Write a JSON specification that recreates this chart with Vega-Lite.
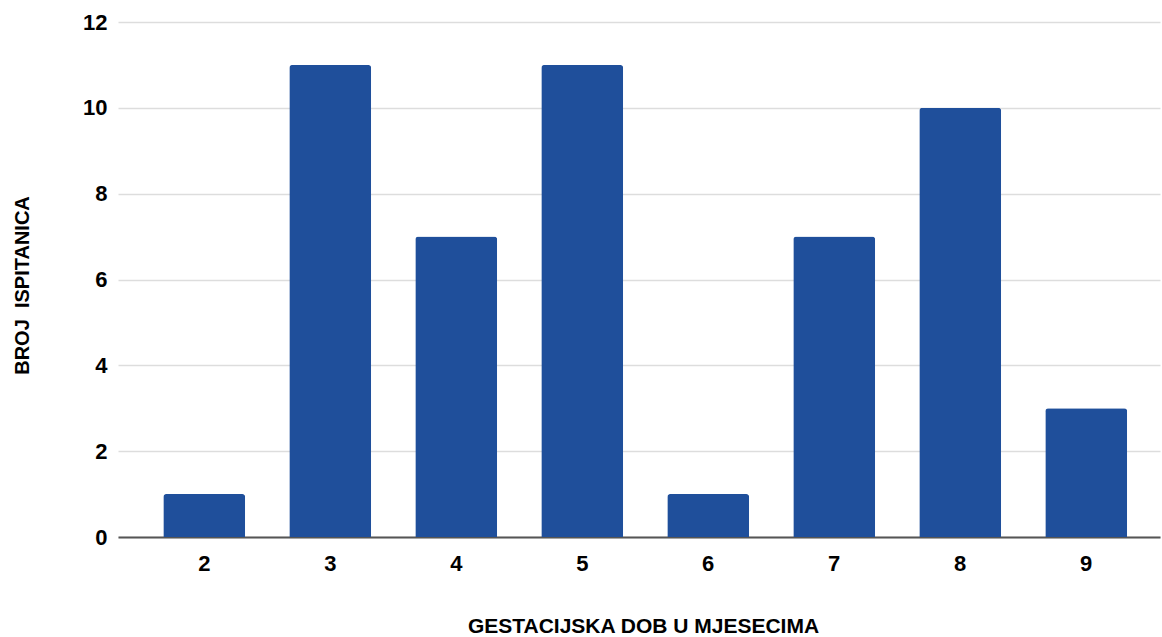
{
  "$schema": "https://vega.github.io/schema/vega-lite/v6.json",
  "width": 1042,
  "height": 515,
  "autosize": {"type": "none"},
  "padding": {"left": 118, "top": 22, "right": 2, "bottom": 100},
  "background": "white",
  "config": {"view": {"stroke": null}, "font": "Liberation Sans"},
  "data": {"values": [
    {"mjesec": "2", "broj": 1},
    {"mjesec": "3", "broj": 11},
    {"mjesec": "4", "broj": 7},
    {"mjesec": "5", "broj": 11},
    {"mjesec": "6", "broj": 1},
    {"mjesec": "7", "broj": 7},
    {"mjesec": "8", "broj": 10},
    {"mjesec": "9", "broj": 3}
  ]},
  "mark": {"type": "bar", "color": "#1f4f9b", "cornerRadiusTopLeft": 3, "cornerRadiusTopRight": 3},
  "encoding": {
    "x": {
      "field": "mjesec", "type": "ordinal", "sort": null,
      "scale": {"paddingInner": 0.35, "paddingOuter": 0.31, "align": 0.58},
      "axis": {
        "title": "GESTACIJSKA DOB U MJESECIMA",
        "titleFont": "Liberation Sans", "titleFontSize": 21, "titleFontWeight": "bold", "titleColor": "#000000",
        "titleBaseline": "alphabetic", "titleY": 95, "titleX": 525,
        "labelAngle": 0, "labelFontSize": 22, "labelFontWeight": "bold", "labelColor": "#000000", "labelPadding": 16,
        "ticks": false, "domainColor": "#555555", "domainWidth": 2, "grid": false
      }
    },
    "y": {
      "field": "broj", "type": "quantitative",
      "scale": {"domain": [0, 12]},
      "axis": {
        "title": "BROJ\u00a0\u00a0ISPITANICA",
        "titleFont": "Liberation Sans", "titleFontSize": 20, "titleFontWeight": "bold", "titleColor": "#000000",
        "titleBaseline": "middle", "titleX": -96, "titleY": 263,
        "values": [0, 2, 4, 6, 8, 10, 12],
        "labelFontSize": 22, "labelFontWeight": "bold", "labelColor": "#000000", "labelPadding": 11,
        "ticks": false, "domain": false, "gridColor": "#dddddd", "gridWidth": 1.5
      }
    }
  }
}
